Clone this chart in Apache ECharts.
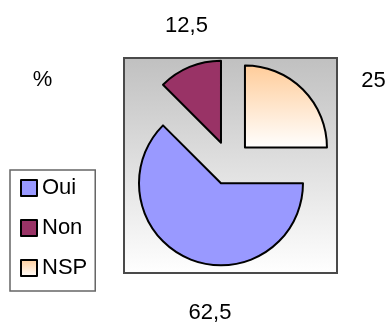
<!DOCTYPE html>
<html>
<head>
<meta charset="utf-8">
<script src="https://cdn.jsdelivr.net/npm/echarts@6/dist/echarts.min.js"></script>
<style>
  html, body { margin: 0; padding: 0; background: #fff; }
  #chart { width: 390px; height: 327px; }
</style>
</head>
<body>
<div id="chart"></div>
<script>
// Survey answers, in percent
const categories = ['Oui', 'Non', 'NSP'];
const values = [62.5, 12.5, 25];
const unitLabel = '%';

const FONT = '"Liberation Sans", Arial, sans-serif';

const sliceColors = [
  '#9999FF',
  '#993366',
  { type: 'linear', x: 0, y: 0, x2: 0, y2: 1,
    colorStops: [{ offset: 0, color: '#FFCC99' }, { offset: 1, color: '#FFFFFF' }] }
];

// Where each value label sits around the exploded pie (label centres)
const labelSpots = [
  [210, 313],
  [186.5, 26],
  [373.5, 81]
];

const formatValue = v => String(v).replace('.', ',');

const chart = echarts.init(document.getElementById('chart'), null, { renderer: 'canvas' });

const valueTexts = values.map((v, i) => ({
  type: 'text',
  x: labelSpots[i][0],
  y: labelSpots[i][1],
  style: {
    text: formatValue(v),
    font: '22px ' + FONT,
    fill: '#000',
    align: 'center',
    verticalAlign: 'middle'
  }
}));

chart.setOption({
  animation: false,
  backgroundColor: '#ffffff',
  graphic: [
    {
      type: 'rect',
      z: -10,
      shape: { x: 124, y: 58, width: 213, height: 215 },
      style: {
        fill: { type: 'linear', x: 0, y: 0, x2: 0, y2: 1,
          colorStops: [{ offset: 0, color: '#C0C0C0' }, { offset: 1, color: '#FFFFFF' }] },
        stroke: '#4a4a4a',
        lineWidth: 2
      }
    },
    {
      type: 'text',
      x: 42.5, y: 80,
      style: {
        text: unitLabel,
        font: '22px ' + FONT,
        fill: '#000',
        align: 'center',
        verticalAlign: 'middle'
      }
    }
  ].concat(valueTexts),
  legend: {
    orient: 'vertical',
    left: 10,
    top: 170,
    data: categories,
    icon: 'rect',
    itemWidth: 16,
    itemHeight: 16,
    itemGap: 18,
    padding: [7, 8, 12, 10],
    backgroundColor: '#ffffff',
    borderColor: '#666666',
    borderWidth: 1.5,
    borderRadius: 0,
    selectedMode: false,
    itemStyle: { borderColor: '#000', borderWidth: 2 },
    textStyle: { fontFamily: FONT, fontSize: 22, color: '#000', lineHeight: 22 }
  },
  series: [{
    type: 'pie',
    center: [229.4, 163],
    radius: 82,
    startAngle: 0,
    clockwise: true,
    selectedMode: 'multiple',
    selectedOffset: 22,
    emphasis: { disabled: true },
    itemStyle: { borderColor: '#000', borderWidth: 2 },
    label: { show: false },
    labelLine: { show: false },
    data: categories.map((name, i) => ({
      name: name,
      value: values[i],
      selected: true,
      itemStyle: { color: sliceColors[i] }
    }))
  }]
});
</script>
</body>
</html>
